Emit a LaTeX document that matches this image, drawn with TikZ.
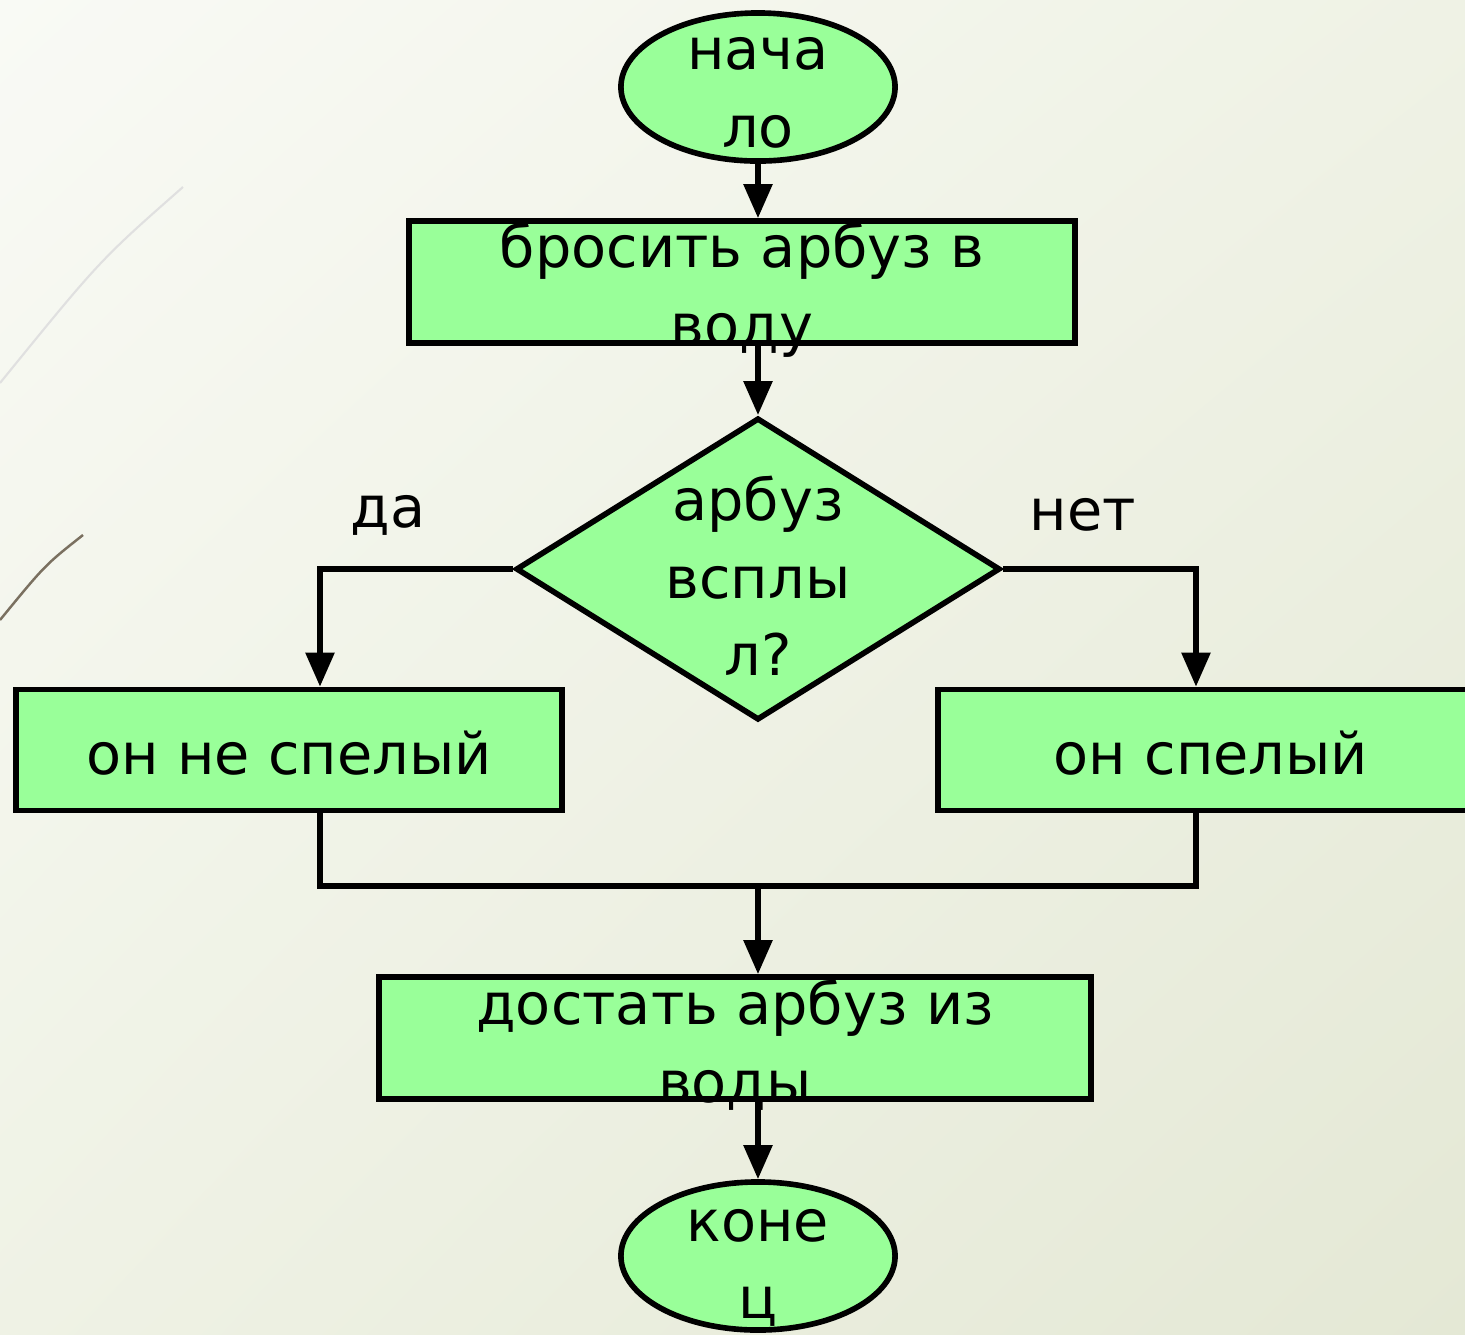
\documentclass[tikz,border=0pt]{standalone}
\usepackage{fontspec}
\setmainfont{DejaVu Sans}
\usetikzlibrary{shapes.geometric,arrows.meta,shadings}

\definecolor{boxgreen}{HTML}{99FF99}
\definecolor{bgtop}{HTML}{F9FAF5}
\definecolor{bgmid}{HTML}{EFF2E5}
\definecolor{bgbot}{HTML}{E4E8D5}
\definecolor{streak}{HTML}{7A7060}

\tikzset{
  terminal/.style={ellipse, draw, fill=boxgreen, line width=1.6pt, minimum width=2.74cm, minimum height=1.48cm, inner sep=0pt},
  procbox/.style={rectangle, draw, fill=boxgreen, line width=1.6pt, inner sep=0pt},
  decision/.style={diamond, draw, fill=boxgreen, line width=1.6pt, minimum width=4.84cm, minimum height=3.02cm, inner sep=0pt},
  flowtext/.style={align=center, font=\fontsize{16.3}{22}\selectfont},
  flow/.style={line width=1.6pt, -{Triangle[length=0.34cm, width=0.28cm]}},
  joinline/.style={line width=1.6pt}
}

\begin{document}
\begin{tikzpicture}[x=0.01cm, y=-0.01cm]

    % background
    \shade[upper left=bgtop, upper right=bgmid, lower left=bgmid, lower right=bgbot] (0,0) rectangle (1465,1335);
    \useasboundingbox (0,0) rectangle (1465,1335);
    \draw[black!12, line width=0.6pt] (183,187) .. controls (100,260) .. (0,383);
    \draw[streak, line width=0.7pt] (83,535) .. controls (45,565) .. (0,620);

    \node[terminal] (start) at (758,87) {};
    \node[flowtext] at (758,93) {нача\\ло};

    \node[procbox, minimum width=6.66cm, minimum height=1.22cm] (throw) at (742,282) {};
    \node[flowtext] at (742,290) {бросить арбуз в\\воду};

    \node[decision] (check) at (758,569) {};
    \node[flowtext] at (758,576) {арбуз\\всплы\\л?};

    \node[flowtext] (yes) at (388,515) {да};
    \node[flowtext] (no) at (1083,515) {нет};

    \node[procbox, minimum width=5.46cm, minimum height=1.21cm] (unripe) at (289,750) {};
    \node[flowtext] at (289,753) {он не спелый};

    \node[procbox, minimum width=5.46cm, minimum height=1.21cm] (ripe) at (1211,750) {};
    \node[flowtext] at (1211,753) {он спелый};

    \node[procbox, minimum width=7.12cm, minimum height=1.22cm] (fetch) at (735,1038) {};
    \node[flowtext] at (735,1045) {достать арбуз из\\воды};

    \node[terminal] (finish) at (758,1256) {};
    \node[flowtext] at (758,1268) {коне\\ц};

    \coordinate (jl) at (320,886);
    \coordinate (jr) at (1196,886);
    \coordinate (jm) at (758,886);

    \draw[flow] (start.south) -- (start.south |- throw.north);
    \draw[flow] (throw.south -| check.north) -- (check.north);
    \draw[flow] (check.west) -| (jl |- unripe.north);
    \draw[flow] (check.east) -| (jr |- ripe.north);
    \draw[joinline] (jl |- unripe.south) -- (jl) -- (jr) -- (jr |- ripe.south);
    \draw[flow] (jm) -- (jm |- fetch.north);
    \draw[flow] (fetch.south -| finish.north) -- (finish.north);
\end{tikzpicture}
\end{document}
